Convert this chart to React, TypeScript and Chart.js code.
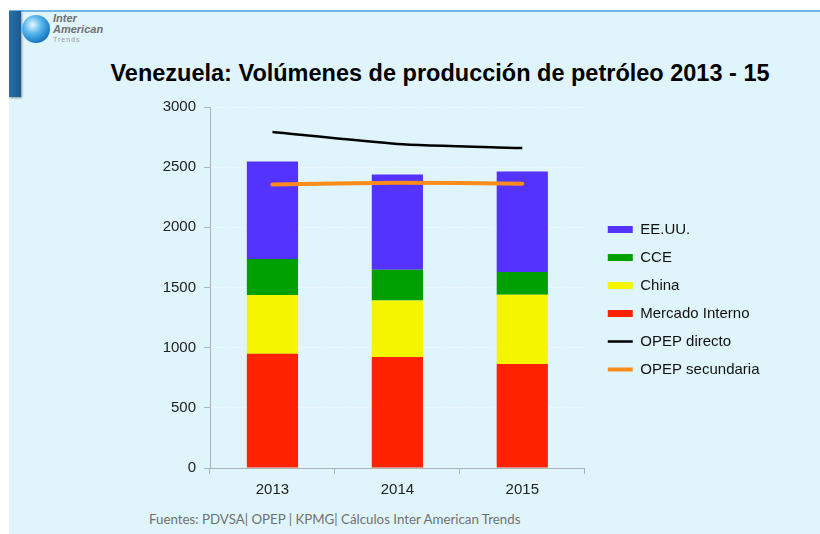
import React, { useEffect, useRef } from "react";
import { Chart, registerables } from "chart.js";

Chart.register(...registerables);

const categories = ["2013", "2014", "2015"];
const mercadoInterno = [950, 922, 864];
const china = [488, 471, 576];
const cce = [299, 255, 189];
const eeuu = [811, 792, 834];
const opepDirecto = [2792, 2693, 2659];
const opepSecundaria = [2355, 2371, 2363];
const yTicks = [0, 500, 1000, 1500, 2000, 2500, 3000];

const FONT = "'Liberation Sans', Arial, sans-serif";

const legendShift = {
  id: "legendShift",
  afterLayout(chart: any) {
    const l = chart.legend;
    if (l) {
      l.left += 10;
      l.right += 60;
      l.width = l.right - l.left;
      l.top -= 4;
      l.bottom -= 4;
    }
  },
};

export default function App() {
  const ref = useRef<HTMLCanvasElement | null>(null);

  useEffect(() => {
    if (!ref.current) return;
    const chart = new Chart(ref.current, {
      type: "bar",
      data: {
        labels: categories,
        datasets: [
          { type: "bar", label: "Mercado Interno", data: mercadoInterno, backgroundColor: "#ff2200", stack: "p", order: 2 },
          { type: "bar", label: "China", data: china, backgroundColor: "#f5f500", stack: "p", order: 2 },
          { type: "bar", label: "CCE", data: cce, backgroundColor: "#00a000", stack: "p", order: 2 },
          { type: "bar", label: "EE.UU.", data: eeuu, backgroundColor: "#5533ff", stack: "p", order: 2 },
          { type: "line", label: "OPEP directo", data: opepDirecto, borderColor: "#000000", backgroundColor: "#000000", borderWidth: 2.5, pointRadius: 0, tension: 0.2, stack: "l1", order: 1 } as any,
          { type: "line", label: "OPEP secundaria", data: opepSecundaria, borderColor: "#ff8c1a", backgroundColor: "#ff8c1a", borderWidth: 4, pointRadius: 0, tension: 0.2, stack: "l2", order: 1, borderCapStyle: "round" } as any,
        ],
      },
      options: {
        animation: false,
        responsive: false,
        layout: { padding: { top: 7, left: 0, right: 87, bottom: 0 } },
        datasets: { bar: { barPercentage: 0.41, categoryPercentage: 1 } } as any,
        plugins: {
          title: { display: false },
          tooltip: { enabled: false },
          legend: {
            position: "right",
            align: "center",
            labels: {
              usePointStyle: true,
              pointStyleWidth: 25,
              boxWidth: 25,
              boxHeight: 7,
              padding: 13,
              color: "#111",
              font: { family: FONT, size: 15 },
              generateLabels: (c: any) => {
                const order = [3, 2, 1, 0, 4, 5];
                return order.map((i) => {
                  const ds = c.data.datasets[i];
                  const isLine = ds.type === "line";
                  return {
                    text: ds.label,
                    datasetIndex: i,
                    hidden: !c.isDatasetVisible(i),
                    pointStyle: isLine ? "line" : "rect",
                    fillStyle: isLine ? ds.borderColor : ds.backgroundColor,
                    strokeStyle: isLine ? ds.borderColor : ds.backgroundColor,
                    lineWidth: isLine ? (i === 5 ? 4 : 2.5) : 0,
                    fontColor: "#111",
                  };
                });
              },
            },
          },
        },
        scales: {
          x: {
            stacked: true,
            offset: true,
            grid: { drawOnChartArea: false, drawTicks: true, tickLength: 6, tickColor: "#a9b4b8", offset: true },
            border: { color: "#a9b4b8", width: 1 },
            ticks: { color: "#222", font: { family: FONT, size: 15 }, padding: 7 },
            afterFit: (s: any) => { s.height = 42; },
          },
          y: {
            stacked: true,
            min: 0,
            max: 3000,
            afterBuildTicks: (s: any) => { s.ticks = yTicks.map((v) => ({ value: v })); },
            grid: { color: "rgba(255,255,255,0.95)", tickColor: "#a9b4b8", tickLength: 6, tickBorderDash: [], lineWidth: 1 },
            border: { color: "#a9b4b8", width: 1, dash: [1, 2] },
            ticks: { color: "#222", font: { family: FONT, size: 15 }, padding: 8, callback: (v: any) => String(v) },
            afterFit: (s: any) => { s.width = 70; },
          },
        },
      },
      plugins: [legendShift],
    } as any);
    return () => chart.destroy();
  }, []);

  return (
    <div style={{ position: "absolute", left: 0, top: 0, width: 820, height: 534, background: "#ffffff", overflow: "hidden" }}>
      <div style={{ position: "absolute", left: 9, top: 10, width: 811, height: 524, background: "#e0f5fb", borderTop: "2px solid #74b4e6", boxSizing: "border-box" }} />
      <div style={{ position: "absolute", left: 9, top: 11, width: 12, height: 86, background: "linear-gradient(90deg, #2a6ea6, #1a5a90)", boxShadow: "1px 1px 2px rgba(0,0,0,0.4)" }} />
      <div style={{ position: "absolute", left: 22, top: 15, width: 28, height: 28, borderRadius: "50%", background: "radial-gradient(circle at 38% 35%, #e8f8ff 0%, #58b8ec 35%, #1a7cc4 70%, #0b4b86 100%)" }} />
      <div style={{ position: "absolute", left: 53, top: 13, fontFamily: FONT, fontStyle: "italic", fontWeight: "bold", fontSize: 11, lineHeight: "11px", color: "#707070" }}>Inter</div>
      <div style={{ position: "absolute", left: 53, top: 24, fontFamily: FONT, fontStyle: "italic", fontWeight: "bold", fontSize: 11, lineHeight: "11px", color: "#707070" }}>American</div>
      <div style={{ position: "absolute", left: 53, top: 36, fontFamily: FONT, fontSize: 7, lineHeight: "7px", color: "#9a9a9a", letterSpacing: 1 }}>Trends</div>
      <div style={{ position: "absolute", left: 60, top: 62, width: 760, textAlign: "center", fontFamily: FONT, fontWeight: "bold", fontSize: 23.5, lineHeight: "23px", color: "#000", whiteSpace: "nowrap" }}>
        Venezuela: Volúmenes de producción de petróleo 2013 - 15
      </div>
      <div style={{ position: "absolute", left: 140, top: 90, width: 680, height: 420 }}>
        <canvas ref={ref} width={680} height={420} />
      </div>
      <div style={{ position: "absolute", left: 149, top: 513, fontFamily: "Lato, 'Open Sans', sans-serif", fontSize: 13.3, lineHeight: "13px", color: "#707070", whiteSpace: "nowrap" }}>
        Fuentes: PDVSA| OPEP | KPMG| Cálculos Inter American Trends
      </div>
    </div>
  );
}
